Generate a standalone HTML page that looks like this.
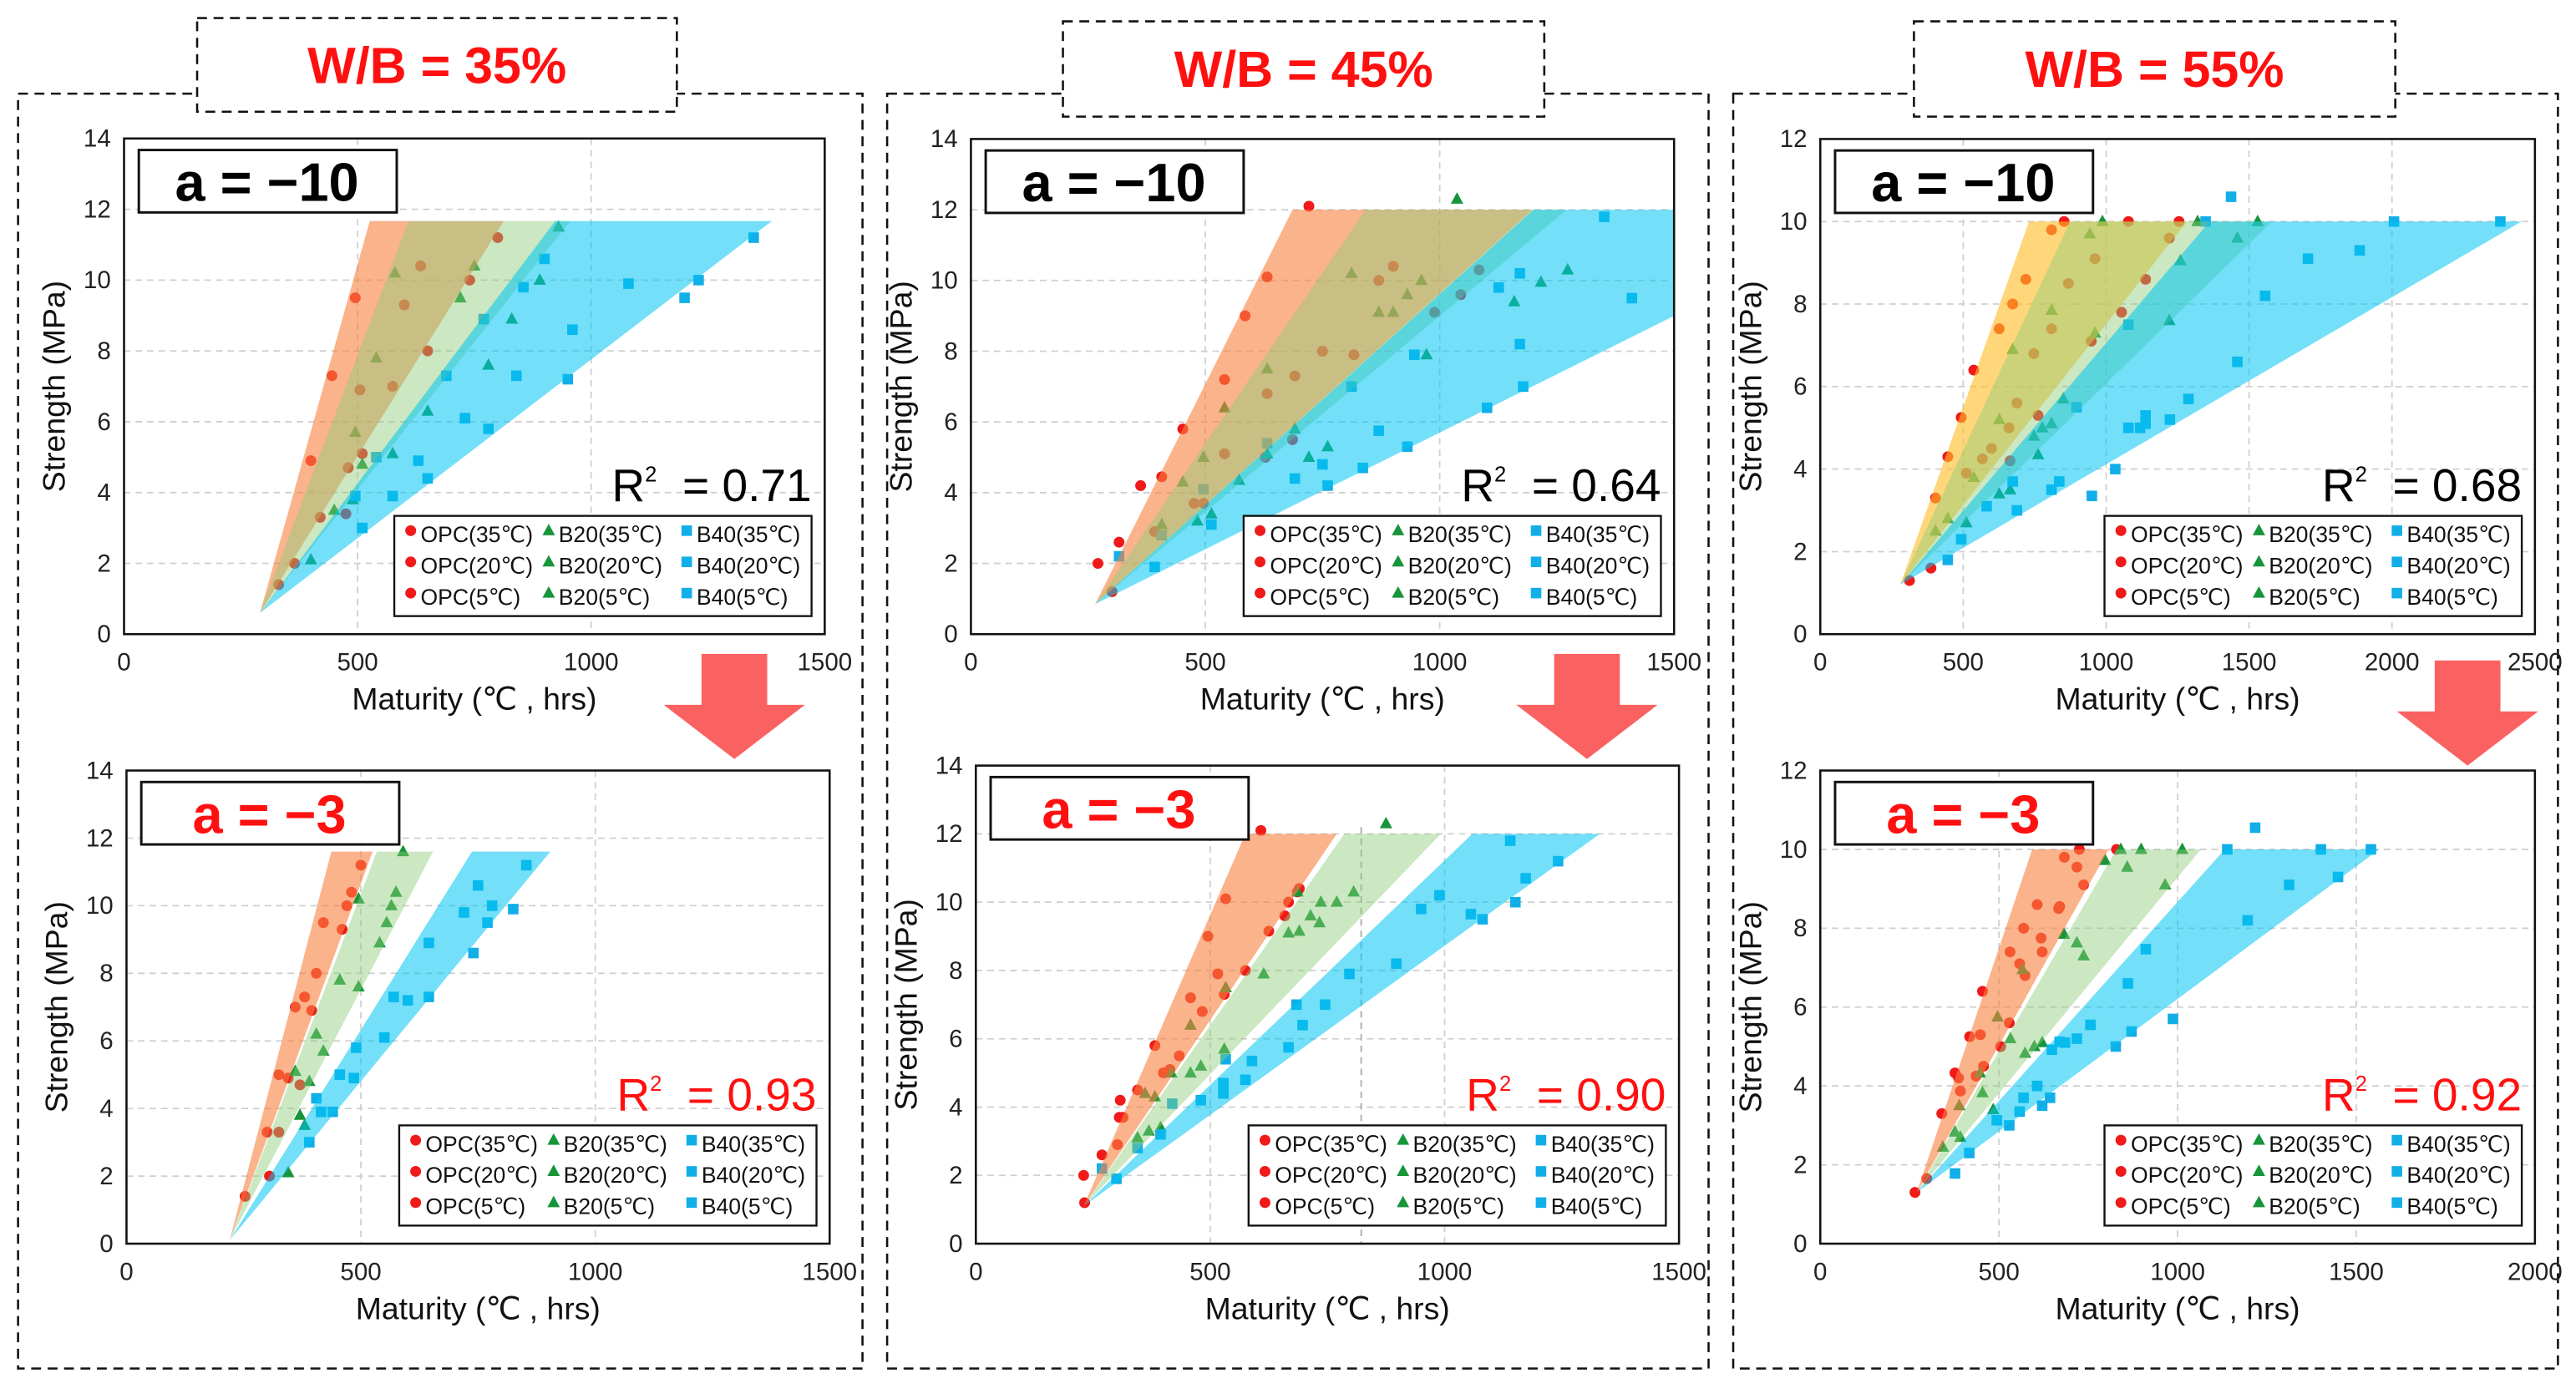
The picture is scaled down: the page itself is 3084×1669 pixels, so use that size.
<!DOCTYPE html>
<html><head><meta charset="utf-8"><style>
html,body{margin:0;padding:0;background:#fff;}
svg{display:block;font-family:"Liberation Sans",Arial,sans-serif;}
</style></head><body>
<svg id="fig" width="3084" height="1669" viewBox="0 0 1568 848.5" preserveAspectRatio="none" xmlns="http://www.w3.org/2000/svg"></svg>
<script>
// ===== DATA =====
const xTicks1500 = [0, 500, 1000, 1500];
const xTicks2500 = [0, 500, 1000, 1500, 2000, 2500];
const xTicks2000 = [0, 500, 1000, 1500, 2000];
const yTicks14 = [0, 2, 4, 6, 8, 10, 12, 14];
const yTicks12 = [0, 2, 4, 6, 8, 10, 12];
const panelTitles = ["W/B = 35%", "W/B = 45%", "W/B = 55%"];
const r2Values = ["0.71", "0.93", "0.64", "0.90", "0.68", "0.92"];
const aValues = ["a = \u221210", "a = \u22123"];

// chart 1 top (W/B 35, a=-10)
const c1t_opc = [[331,1.4],[365,2],[420,3.3],[400,4.9],[480,4.7],[510,5.1],[445,7.3],[495,9.5],[505,6.9],[575,7],[600,9.3],[635,10.4],[650,8],[740,10],[800,11.2],[475,3.4]];
const c1t_b20 = [[400,2.1],[450,3.5],[490,3.8],[510,4.8],[575,5.1],[495,5.7],[540,7.8],[580,10.2],[650,6.3],[780,7.6],[720,9.5],[750,10.4],[830,8.9],[890,10],[930,11.5]];
const c1t_b40 = [[510,3],[495,3.9],[575,3.9],[540,5],[650,4.4],[630,4.9],[730,6.1],[780,5.8],[690,7.3],[840,7.3],[950,7.2],[770,8.9],[855,9.8],[900,10.6],[960,8.6],[1080,9.9],[1200,9.5],[1230,10],[1348,11.2]];
const c1t_apex = [291, 0.6];
const c1t_bandTop = [11.67, 11.67, 11.67];
const c1t_bandLeft = [526, 609, 923];
const c1t_bandRight = [813, 955, 1387];

// chart 1 bottom (W/B 35, a=-3)
const c1b_opc = [[253,1.4],[305,2],[300,3.3],[325,5],[345,4.9],[360,7],[380,7.3],[395,6.9],[405,8],[420,9.5],[460,9.3],[470,10],[480,10.4],[500,11.2],[370,4.7],[325,3.3]];
const c1b_b20 = [[345,2.1],[370,3.8],[380,3.5],[390,4.8],[360,5.1],[405,6.2],[420,5.7],[455,7.8],[495,7.6],[540,8.9],[555,9.5],[565,10],[575,10.4],[495,10.2],[590,11.6]];
const c1b_b40 = [[390,3],[405,4.3],[415,3.9],[440,3.9],[455,5],[485,4.9],[490,5.8],[550,6.1],[570,7.3],[600,7.2],[645,7.3],[645,8.9],[720,9.8],[740,8.6],[750,10.6],[770,9.5],[780,10],[825,9.9],[853,11.2]];
const c1b_apex = [220, 0.1];
const c1b_bandTop = [11.6, 11.6, 11.6];
const c1b_bandLeft = [437, 534, 737];
const c1b_bandRight = [525, 654, 904];

// chart 2 top (W/B 45, a=-10)
const c2t_opc = [[271,2.0],[301,1.2],[316,2.6],[362,4.2],[407,4.45],[452,5.8],[541,7.2],[585,9.0],[632,10.1],[721,12.1],[392,2.9],[476,3.7],[496,3.7],[541,5.1],[632,6.8],[691,7.3],[750,8.0],[817,7.9],[870,10.0],[901,10.4],[989,9.1],[1045,9.6],[1084,10.3],[628,5.0],[686,5.5]];
const c2t_b20 = [[407,3.1],[452,4.3],[483,3.2],[496,5.0],[513,3.4],[541,6.4],[572,4.35],[632,7.5],[632,5.1],[691,5.8],[721,5.0],[761,5.3],[812,10.2],[870,9.1],[901,9.1],[931,9.6],[961,10.0],[972,7.9],[1037,12.3],[1159,9.4],[1216,9.95],[1273,10.3]];
const c2t_b40 = [[316,2.2],[392,1.9],[496,4.1],[407,2.8],[513,3.1],[691,4.4],[750,4.8],[761,4.2],[812,7.0],[836,4.7],[870,5.75],[931,5.3],[946,7.9],[1101,6.4],[1126,9.8],[1171,10.2],[1171,8.2],[1178,7.0],[1351,11.8],[1410,9.5],[632,5.4]];
const c2t_apex = [265, 0.85];
const c2t_bandTop = [12, 12, 12];
const c2t_bandLeft = [686, 842, 1200];
const c2t_bandRight = [1198, 1271, 1955];

// chart 2 bottom (W/B 45, a=-3)
const c2b_opc = [[230,2.0],[232,1.2],[269,2.6],[302,2.9],[306,3.7],[308,4.2],[314,3.7],[345,4.5],[382,5.8],[400,5.0],[414,5.1],[434,5.5],[458,7.2],[483,6.8],[495,9.0],[516,7.9],[530,7.3],[533,10.1],[575,8.0],[608,12.1],[625,9.15],[659,9.6],[667,10.0],[686,10.3],[690,10.4]];
const c2b_b20 = [[345,3.1],[369,3.3],[382,4.3],[361,4.4],[394,3.4],[417,5.0],[458,5.0],[458,6.4],[480,5.2],[530,5.7],[533,7.5],[614,7.9],[667,9.1],[690,9.15],[714,9.6],[733,9.4],[736,10.0],[770,10.0],[806,10.3],[875,12.3],[686,10.3]];
const c2b_b40 = [[269,2.2],[300,1.9],[345,2.8],[394,3.2],[419,4.1],[480,4.2],[528,4.4],[528,4.7],[533,5.4],[575,4.8],[589,5.35],[667,5.75],[684,7.0],[697,6.4],[745,7.0],[797,7.9],[897,8.2],[950,9.8],[989,10.2],[1056,9.65],[1081,9.5],[1140,11.8],[1151,10.0],[1173,10.7],[1242,11.2]];
const c2b_apex = [230, 1.1];
const c2b_bandTop = [12, 12, 12];
const c2b_bandLeft = [575, 786, 1059];
const c2b_bandRight = [770, 992, 1331];

// chart 3 top (W/B 55, a=-10)
const c3t_opc = [[312,1.3],[387,1.6],[403,3.3],[446,4.3],[493,5.25],[537,6.4],[626,7.4],[673,8.0],[719,8.6],[809,9.8],[853,10.0],[1078,10.0],[1255,10.0],[511,3.9],[567,4.25],[599,4.5],[660,5.0],[688,5.6],[747,6.8],[809,7.4],[868,8.5],[961,9.1],[948,7.1],[762,5.3],[664,4.2],[1054,7.8],[1138,8.6],[1221,9.6]];
const c3t_b20 = [[403,2.5],[446,2.8],[511,2.7],[537,3.8],[626,3.4],[664,3.5],[626,5.2],[673,6.9],[747,4.8],[777,5.0],[809,5.1],[809,7.85],[850,5.7],[762,4.35],[943,9.7],[961,7.3],[987,10.0],[1221,7.6],[1260,9.05],[1320,10.0],[1459,9.6],[1530,10.0]];
const c3t_b40 = [[446,1.8],[493,2.3],[582,3.1],[673,3.7],[688,3.0],[809,3.5],[836,3.7],[896,5.5],[950,3.35],[1032,4.0],[1078,5.0],[1119,5.0],[1138,5.3],[1138,5.1],[1223,5.2],[1288,5.7],[1078,7.5],[1348,10.0],[1437,10.6],[1459,6.6],[1556,8.2],[1706,9.1],[1887,9.3],[2007,10.0],[2379,10.0]];
const c3t_apex = [280, 1.2];
const c3t_bandTop = [10, 10, 10];
const c3t_bandLeft = [730, 874, 1362];
const c3t_bandRight = [1283, 1580, 2453];

// chart 3 bottom (W/B 55, a=-3)
const c3b_opc = [[265,1.3],[298,1.65],[340,3.3],[377,4.33],[387,4.2],[392,3.87],[418,5.25],[436,4.25],[448,5.3],[454,6.4],[457,4.5],[505,5.0],[529,5.6],[531,7.4],[558,7.1],[569,8.0],[573,6.8],[607,8.6],[618,7.75],[621,7.4],[667,8.5],[683,9.8],[718,9.55],[725,10.0],[737,9.1],[829,10.0],[670,8.55]];
const c3b_b20 = [[343,2.45],[377,2.83],[392,2.7],[389,3.5],[447,4.33],[454,3.83],[484,3.4],[496,5.75],[532,5.2],[573,4.83],[566,6.95],[599,5.0],[621,5.1],[682,7.85],[718,7.63],[737,7.3],[797,9.72],[841,10.0],[859,9.55],[898,10.0],[965,9.1],[1013,10.0]];
const c3b_b40 = [[377,1.78],[417,2.3],[494,3.13],[529,3.0],[558,3.35],[569,3.7],[607,4.0],[621,3.5],[643,3.7],[648,4.92],[670,5.12],[685,5.1],[718,5.2],[756,5.55],[827,5.0],[871,5.38],[861,6.6],[911,7.47],[987,5.7],[1139,10.0],[1196,8.2],[1217,10.55],[1312,9.1],[1401,10.0],[1449,9.3],[1541,10.0]];
const c3b_apex = [270, 1.3];
const c3b_bandTop = [10, 10, 10];
const c3b_bandLeft = [593, 829, 1132];
const c3b_bandRight = [807, 1065, 1564];

// ===== LAYOUT =====
const NS = 'http://www.w3.org/2000/svg';
const svg = document.getElementById('fig');
function mk(tag, attrs, parent) {
  const e = document.createElementNS(NS, tag);
  for (const k in attrs) e.setAttribute(k, attrs[k]);
  (parent || svg).appendChild(e);
  return e;
}

const charts = [
  {id:'c1t', box:[75.5,84.3,502,386], xmax:1500, ymax:14, xt:xTicks1500, yt:yTicks14, opc:c1t_opc, b20:c1t_b20, b40:c1t_b40, apex:c1t_apex, top:c1t_bandTop, left:c1t_bandLeft, right:c1t_bandRight, a:0, r2:0, red:false, firstColor:'rgba(248,128,64,0.6)'},
  {id:'c1b', box:[77,469,505,757], xmax:1500, ymax:14, xt:xTicks1500, yt:yTicks14, opc:c1b_opc, b20:c1b_b20, b40:c1b_b40, apex:c1b_apex, top:c1b_bandTop, left:c1b_bandLeft, right:c1b_bandRight, a:1, r2:1, red:true, firstColor:'rgba(248,128,64,0.6)'},
  {id:'c2t', box:[591,84.6,1019,386], xmax:1500, ymax:14, xt:xTicks1500, yt:yTicks14, opc:c2t_opc, b20:c2t_b20, b40:c2t_b40, apex:c2t_apex, top:c2t_bandTop, left:c2t_bandLeft, right:c2t_bandRight, a:0, r2:2, red:false, firstColor:'rgba(248,128,64,0.6)'},
  {id:'c2b', box:[594,466,1022,757], xmax:1500, ymax:14, xt:xTicks1500, yt:yTicks14, opc:c2b_opc, b20:c2b_b20, b40:c2b_b40, apex:c2b_apex, top:c2b_bandTop, left:c2b_bandLeft, right:c2b_bandRight, a:1, r2:3, red:true, firstColor:'rgba(248,128,64,0.6)'},
  {id:'c3t', box:[1108,84.6,1543,386], xmax:2500, ymax:12, xt:xTicks2500, yt:yTicks12, opc:c3t_opc, b20:c3t_b20, b40:c3t_b40, apex:c3t_apex, top:c3t_bandTop, left:c3t_bandLeft, right:c3t_bandRight, a:0, r2:4, red:false, firstColor:'rgba(255,190,40,0.62)'},
  {id:'c3b', box:[1108,469,1543,757], xmax:2000, ymax:12, xt:xTicks2000, yt:yTicks12, opc:c3b_opc, b20:c3b_b20, b40:c3b_b40, apex:c3b_apex, top:c3b_bandTop, left:c3b_bandLeft, right:c3b_bandRight, a:1, r2:5, red:true, firstColor:'rgba(248,128,64,0.6)'}
];

// panels
const panels = [
  {box:[11,57,525,833], title:[120,11,412,68]},
  {box:[540,57,1040,833], title:[647,13,940,71]},
  {box:[1055,57,1557,833], title:[1165,13,1458,71]}
];
panels.forEach((p, i) => {
  const r = mk('rect', {x:p.box[0], y:p.box[1], width:p.box[2]-p.box[0], height:p.box[3]-p.box[1], fill:'none', stroke:'#111', 'stroke-width':1.3, 'stroke-dasharray':'6 4'});
  
  
  const t = mk('rect', {x:p.title[0], y:p.title[1], width:p.title[2]-p.title[0], height:p.title[3]-p.title[1], fill:'#fff', stroke:'#111', 'stroke-width':1.3, 'stroke-dasharray':'6 4'});
  
  
  const tx = mk('text', {x:(p.title[0]+p.title[2])/2, y:(p.title[1]+p.title[3])/2+11, 'text-anchor':'middle', 'font-size':31, 'font-weight':'bold', fill:'#ff1010'});
  tx.textContent = panelTitles[i];
  
  
});

// arrows
const arrows = [[447,398], [966,398], [1502,402]];
arrows.forEach(a => {
  const cx = a[0], y = a[1];
  const g = mk('polygon', {points:`${cx-20},${y} ${cx+20},${y} ${cx+20},${y+31} ${cx+43},${y+31} ${cx},${y+64} ${cx-43},${y+31} ${cx-20},${y+31}`, fill:'#fa6262'});
  
  
});

function marker(kind, px, py, parent) {
  let e;
  if (kind === 'opc') {
    e = mk('circle', {cx:px, cy:py, r:3.3, fill:'#f01a1a'}, parent);
    
  } else if (kind === 'b20') {
    e = mk('polygon', {points:`${px},${py-4.2} ${px+3.8},${py+2.8} ${px-3.8},${py+2.8}`, fill:'#17953a'}, parent);
    
  } else {
    e = mk('rect', {x:px-3.2, y:py-3.2, width:6.4, height:6.4, fill:'#12aee8'}, parent);
    
  }
  
  return e;
}

charts.forEach((c, ci) => {
  const [x0, y0, x1, y1] = c.box;
  const sx = v => x0 + (v / c.xmax) * (x1 - x0);
  const sy = v => y1 - (v / c.ymax) * (y1 - y0);
  const g = mk('g', {});
  
  

  const bg = mk('rect', {x:x0, y:y0, width:x1-x0, height:y1-y0, fill:'#fff'}, g);
  
  

  // grid
  c.yt.forEach(v => {
    if (v > 0 && v < c.ymax) {
      const l = mk('line', {x1:x0, x2:x1, y1:sy(v), y2:sy(v), stroke:'#cfcfcf', 'stroke-width':0.9, 'stroke-dasharray':'4 3'}, g);
      
      
    }
    const t = mk('text', {x:x0-8, y:sy(v)+5, 'text-anchor':'end', 'font-size':15, fill:'#222'}, g);
    t.textContent = v;
    
    
  });
  c.xt.forEach(v => {
    if (v > 0 && v < c.xmax) {
      const l = mk('line', {x1:sx(v), x2:sx(v), y1:y0, y2:y1, stroke:'#cfcfcf', 'stroke-width':0.9, 'stroke-dasharray':'4 3'}, g);
      
      
    }
    const t = mk('text', {x:sx(v), y:y1+22, 'text-anchor':'middle', 'font-size':15, fill:'#222'}, g);
    t.textContent = v;
    
    
  });
  if (c.id === 'c2b') {
    const l = mk('line', {x1:sx(822), x2:sx(822), y1:sy(12.2), y2:y1, stroke:'#aaa', 'stroke-width':0.9, 'stroke-dasharray':'4 3'}, g);
    
    
  }

  // points
  c.opc.forEach(p => marker('opc', sx(p[0]), sy(p[1]), g));
  c.b20.forEach(p => marker('b20', sx(p[0]), sy(p[1]), g));
  c.b40.forEach(p => marker('b40', sx(p[0]), sy(p[1]), g));

  // bands (over points, translucent), clipped to plot
  const clip = mk('clipPath', {id:'clip-' + c.id}, g);
  mk('rect', {x:x0, y:y0, width:x1-x0, height:y1-y0}, clip);
  const colors = [c.firstColor, 'rgba(140,204,120,0.45)', 'rgba(0,196,242,0.55)'];
  const bandNames = ['opc-band', 'b20-band', 'b40-band'];
  c.left.forEach((lv, bi) => {
    const pts = `${sx(c.apex[0])},${sy(c.apex[1])} ${sx(lv)},${sy(c.top[bi])} ${sx(c.right[bi])},${sy(c.top[bi])}`;
    const b = mk('polygon', {points:pts, fill:colors[bi], 'clip-path':'url(#clip-' + c.id + ')'}, g);
    
    
  });

  const fr = mk('rect', {x:x0, y:y0, width:x1-x0, height:y1-y0, fill:'none', stroke:'#111', 'stroke-width':1.3}, g);
  
  

  // axis titles
  const yt = mk('text', {x:0, y:0, 'text-anchor':'middle', 'font-size':19, fill:'#111', transform:`translate(${x0-36},${(y0+y1)/2}) rotate(-90)`}, g);
  yt.textContent = 'Strength (MPa)';
  
  
  const xt = mk('text', {x:(x0+x1)/2, y:y1+46, 'text-anchor':'middle', 'font-size':19, fill:'#111'}, g);
  xt.textContent = 'Maturity (\u2103 , hrs)';
  
  

  // a label box
  const ab = mk('rect', {x:x0+9, y:y0+7, width:157, height:38, fill:'#fff', stroke:'#111', 'stroke-width':1.5}, g);
  
  
  const at = mk('text', {x:x0+87, y:y0+38, 'text-anchor':'middle', 'font-size':33, 'font-weight':'bold', fill:c.red?'#ff1010':'#000'}, g);
  at.textContent = aValues[c.a];
  
  

  // R2
  const legTop = y1 - 72;
  const rt = mk('text', {x:x1-8, y:legTop-9, 'text-anchor':'end', 'font-size':28, fill:c.red?'#ff1010':'#000'}, g);
  const t1 = mk('tspan', {}, rt); t1.textContent = 'R';
  const t2 = mk('tspan', {dy:-12, 'font-size':13}, rt); t2.textContent = '2';
  const t3 = mk('tspan', {dy:12}, rt); t3.textContent = '\u00a0 = ' + r2Values[c.r2];
  
  

  // legend
  const lx = x1 - 262, ly = legTop;
  const lg = mk('g', {}, g);
  
  
  mk('rect', {x:lx, y:ly, width:254, height:61, fill:'#fff', stroke:'#111', 'stroke-width':1.2}, lg);
  const kinds = ['opc', 'b20', 'b40'];
  const labels = [['OPC(35\u2103)','OPC(20\u2103)','OPC(5\u2103)'],['B20(35\u2103)','B20(20\u2103)','B20(5\u2103)'],['B40(35\u2103)','B40(20\u2103)','B40(5\u2103)']];
  kinds.forEach((k, col) => {
    for (let row = 0; row < 3; row++) {
      const mx = lx + 10 + col * 84, my = ly + 11 + row * 19;
      const m = marker(k, mx, my - 2, lg);
      const t = mk('text', {x:mx + 6, y:my + 5, 'font-size':13.5, fill:'#111'}, lg);
      t.textContent = labels[col][row];
      
      
    }
  });
});
</script>
</body></html>
